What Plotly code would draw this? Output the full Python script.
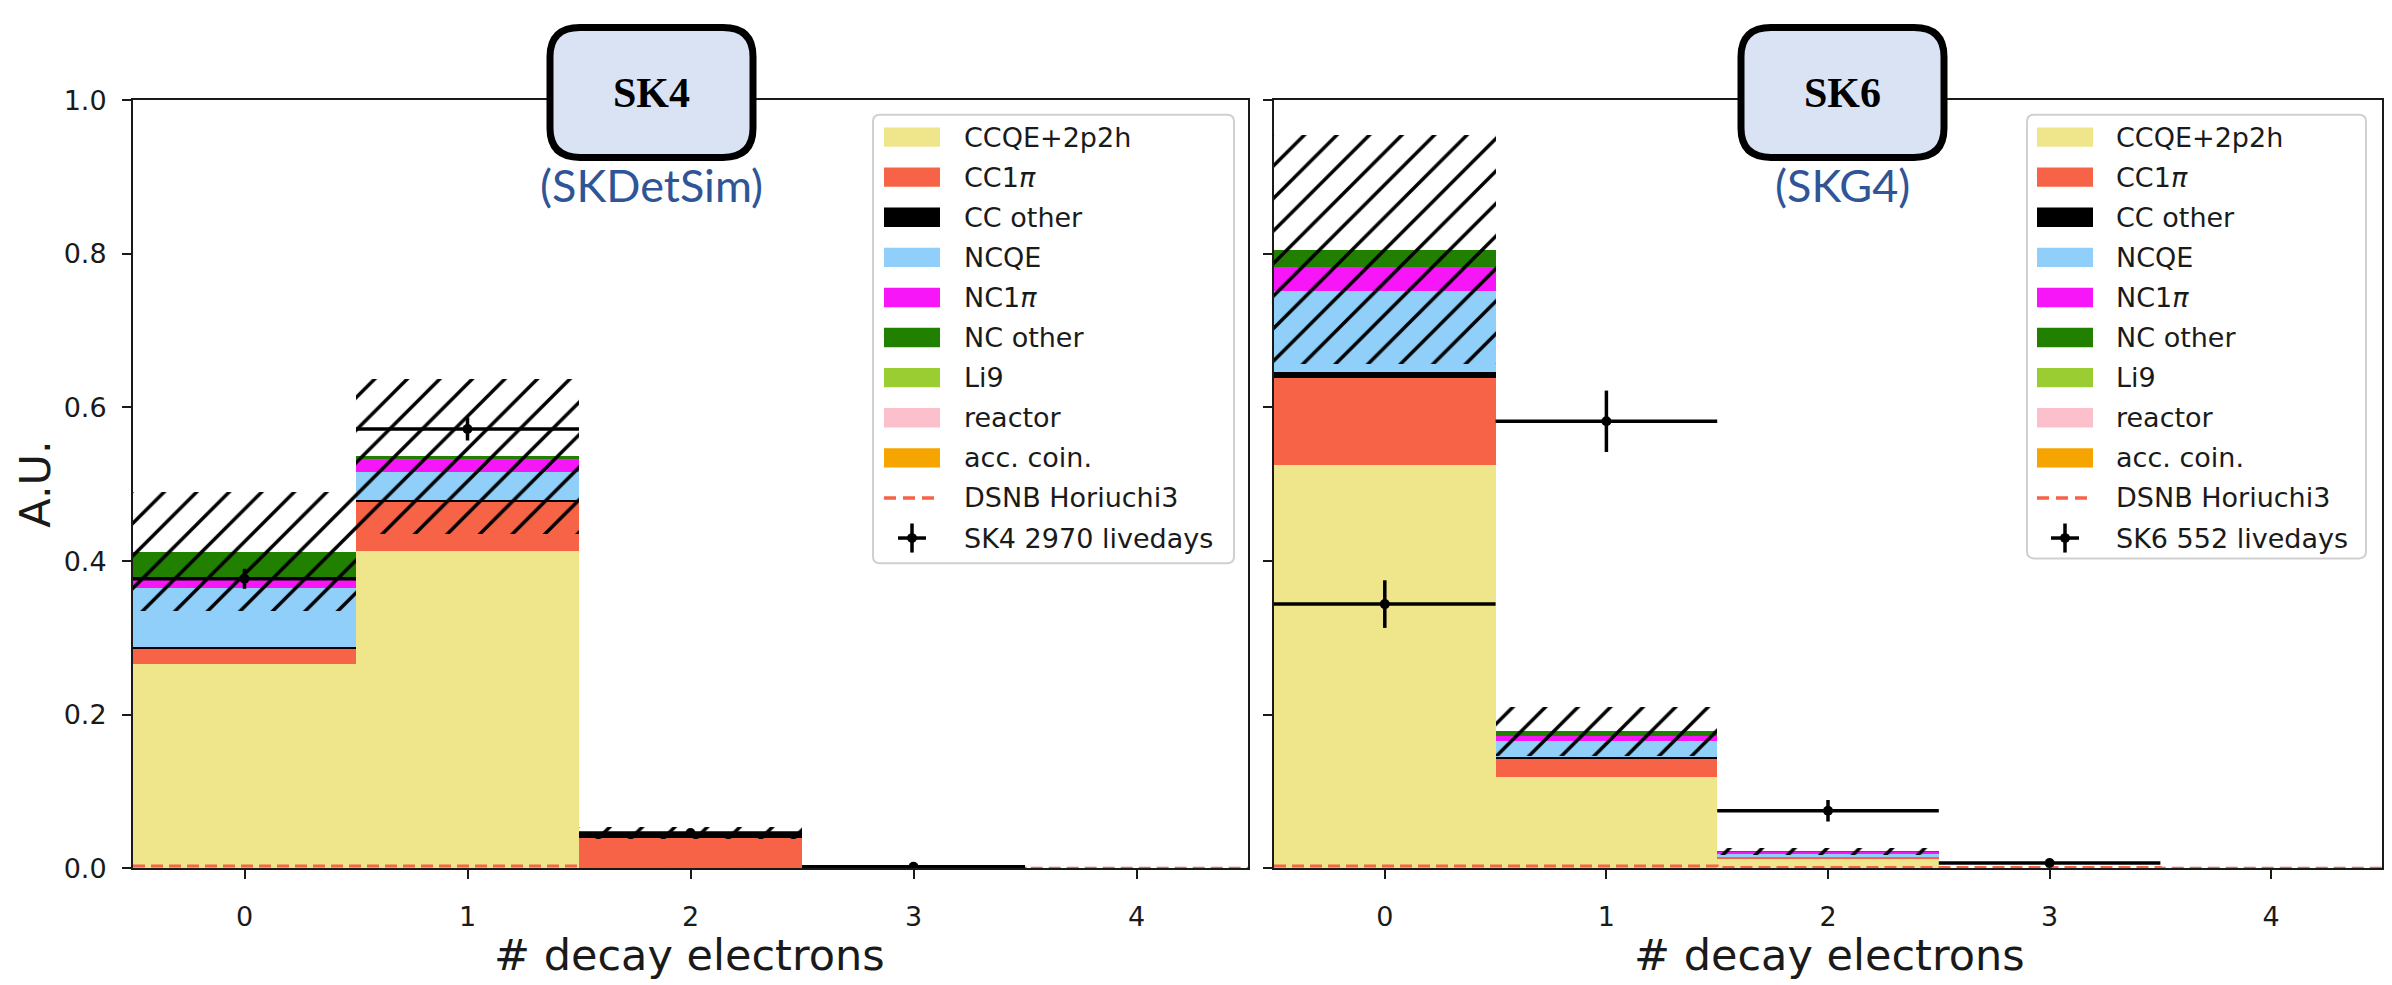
import numpy as np
import plotly.graph_objects as go

W, H = 2392, 985

# ---------------- data ----------------
bins = [0, 1, 2, 3, 4]
xtick_vals = [0, 1, 2, 3, 4]
ytick_vals = [0.0, 0.2, 0.4, 0.6, 0.8, 1.0]
ytick_text = ["0.0", "0.2", "0.4", "0.6", "0.8", "1.0"]

components = ["CCQE+2p2h", "CC1<i>π</i>", "CC other", "NCQE", "NC1<i>π</i>",
              "NC other", "Li9", "reactor", "acc. coin."]
comp_colors = ["#EFE58A", "#F66346", "#000000", "#8FCFF9", "#F716F7",
               "#218000", "#9ACD32", "#FBC0CB", "#F6A500"]

# SK4 (SKDetSim) stacked components per bin
sk4_ccqe = [0.266, 0.413, 0.000, 0.000, 0.0]
sk4_cc1pi = [0.020, 0.063, 0.039, 0.000, 0.0]
sk4_ccother = [0.002, 0.003, 0.007, 0.001, 0.0]
sk4_ncqe = [0.077, 0.037, 0.000, 0.000, 0.0]
sk4_nc1pi = [0.010, 0.016, 0.000, 0.000, 0.0]
sk4_ncother = [0.037, 0.004, 0.000, 0.000, 0.0]
sk4_li9 = [0.0, 0.0, 0.0, 0.0, 0.0]
sk4_reactor = [0.0, 0.0, 0.0, 0.0, 0.0]
sk4_acc = [0.0, 0.0, 0.0, 0.0, 0.0]
sk4_syst = [0.077, 0.101, 0.008, 0.000, 0.0]
sk4_dsnb = [0.003, 0.003, 0.001, 0.0005, 0.0]
sk4_data_x = [0, 1, 2, 3]
sk4_data_y = [0.377, 0.572, 0.046, 0.002]
sk4_data_yerr = [0.013, 0.015, 0.004, 0.001]
sk4_data_xerr = [0.5, 0.5, 0.5, 0.5]

# SK6 (SKG4) stacked components per bin
sk6_ccqe = [0.525, 0.119, 0.013, 0.000, 0.0]
sk6_cc1pi = [0.113, 0.023, 0.002, 0.000, 0.0]
sk6_ccother = [0.008, 0.003, 0.000, 0.000, 0.0]
sk6_ncqe = [0.105, 0.020, 0.004, 0.000, 0.0]
sk6_nc1pi = [0.031, 0.007, 0.002, 0.000, 0.0]
sk6_ncother = [0.023, 0.006, 0.0005, 0.000, 0.0]
sk6_li9 = [0.0, 0.0, 0.0, 0.0, 0.0]
sk6_reactor = [0.0, 0.0, 0.0, 0.0, 0.0]
sk6_acc = [0.0, 0.0, 0.0, 0.0, 0.0]
sk6_syst = [0.149, 0.032, 0.004, 0.000, 0.0]
sk6_dsnb = [0.003, 0.003, 0.001, 0.001, 0.0]
sk6_data_x = [0, 1, 2, 3]
sk6_data_y = [0.344, 0.582, 0.075, 0.007]
sk6_data_yerr = [0.031, 0.040, 0.014, 0.004]
sk6_data_xerr = [0.5, 0.5, 0.5, 0.5]

sk4_stack = [sk4_ccqe, sk4_cc1pi, sk4_ccother, sk4_ncqe, sk4_nc1pi,
             sk4_ncother, sk4_li9, sk4_reactor, sk4_acc]
sk6_stack = [sk6_ccqe, sk6_cc1pi, sk6_ccother, sk6_ncqe, sk6_nc1pi,
             sk6_ncother, sk6_li9, sk6_reactor, sk6_acc]

legend_sk4_data = "SK4 2970 livedays"
legend_sk6_data = "SK6 552 livedays"
dsnb_label = "DSNB Horiuchi3"

# ---------------- helpers ----------------
def X(px):
    return px / W


def Y(py):
    return 1 - py / H


FONT = "DejaVu Sans"
TXT = "#1a1a1a"

fig = go.Figure()


def add_panel(stack, syst, dsnb, dx, dy, dyerr, dxerr, xa, ya):
    base = np.zeros(len(bins))
    for vals, col, name in zip(stack, comp_colors, components):
        v = np.array(vals, dtype=float)
        fig.add_trace(go.Bar(x=bins, y=v, base=base.copy(), width=1.0,
                             marker=dict(color=col, line=dict(width=0)),
                             name=name, showlegend=False, xaxis=xa, yaxis=ya))
        base = base + v
    edges = np.array(bins, dtype=float) - 0.5
    edges = np.append(edges, bins[-1] + 0.5)
    dv = np.append(np.array(dsnb, dtype=float), dsnb[-1])
    fig.add_trace(go.Scatter(x=edges, y=dv, mode="lines", line_shape="hv",
                             line=dict(color="#F66346", width=3, dash="12px,6px"),
                             showlegend=False, xaxis=xa, yaxis=ya))
    fig.add_trace(go.Scatter(x=dx, y=dy, mode="markers",
                             marker=dict(color="black", size=10),
                             error_y=dict(type="data", array=dyerr, color="black",
                                          thickness=3.5, width=0),
                             error_x=dict(type="data", array=dxerr, color="black",
                                          thickness=3.5, width=0),
                             showlegend=False, xaxis=xa, yaxis=ya))
    s = np.array(syst, dtype=float)
    fig.add_trace(go.Bar(x=bins, y=2 * s, base=base - s, width=1.0,
                         marker=dict(color="rgba(0,0,0,0)", line=dict(width=0),
                                     pattern=dict(shape="/", fgcolor="black",
                                                  bgcolor="rgba(0,0,0,0)",
                                                  fgopacity=1,
                                                  size=23, solidity=0.15,
                                                  fillmode="overlay")),
                         showlegend=False, xaxis=xa, yaxis=ya))


add_panel(sk4_stack, sk4_syst, sk4_dsnb, sk4_data_x, sk4_data_y,
          sk4_data_yerr, sk4_data_xerr, "x", "y")
add_panel(sk6_stack, sk6_syst, sk6_dsnb, sk6_data_x, sk6_data_y,
          sk6_data_yerr, sk6_data_xerr, "x2", "y2")

# ---------------- axes ----------------
ydom = [Y(880), Y(87)]
axis_common = dict(showgrid=False, zeroline=False, showline=True, linecolor="#1a1a1a",
                   linewidth=2, mirror=True, ticks="outside", ticklen=9, tickwidth=2,
                   tickcolor="#1a1a1a", tickfont=dict(family=FONT, size=27, color=TXT))

fig.update_layout(
    width=W, height=H,
    margin=dict(l=0, r=0, t=0, b=0),
    paper_bgcolor="white", plot_bgcolor="white",
    barmode="overlay", bargap=0, showlegend=False,
    xaxis=dict(domain=[X(133), X(1248)], range=[-0.5, 4.5], tickvals=xtick_vals,
               ticklabelstandoff=14, anchor="y", **axis_common),
    yaxis=dict(domain=ydom, range=[0, 1.0], tickvals=ytick_vals, ticktext=ytick_text,
               ticklabelstandoff=10, anchor="x", **axis_common),
    xaxis2=dict(domain=[X(1274), X(2382)], range=[-0.5, 4.5], tickvals=xtick_vals,
                ticklabelstandoff=14, anchor="y2", **axis_common),
    yaxis2=dict(domain=ydom, range=[0, 1.0], tickvals=ytick_vals, showticklabels=False,
                anchor="x2", **axis_common),
)

shapes = []
annotations = []

# axis titles
annotations.append(dict(text="# decay electrons", x=X(690), y=Y(969), xref="paper",
                        yref="paper", showarrow=False, xanchor="center", yanchor="middle",
                        font=dict(family=FONT, size=43, color=TXT)))
annotations.append(dict(text="# decay electrons", x=X(1829), y=Y(969), xref="paper",
                        yref="paper", showarrow=False, xanchor="center", yanchor="middle",
                        font=dict(family=FONT, size=43, color=TXT)))
annotations.append(dict(text="A.U.", x=X(35), y=Y(484), xref="paper", yref="paper",
                        showarrow=False, xanchor="center", yanchor="middle", textangle=-90,
                        font=dict(family=FONT, size=43, color=TXT)))


def rbox(x0, y0, x1, y1, r):
    return (f"M {X(x0 + r)},{Y(y0)} L {X(x1 - r)},{Y(y0)} "
            f"Q {X(x1)},{Y(y0)} {X(x1)},{Y(y0 + r)} L {X(x1)},{Y(y1 - r)} "
            f"Q {X(x1)},{Y(y1)} {X(x1 - r)},{Y(y1)} L {X(x0 + r)},{Y(y1)} "
            f"Q {X(x0)},{Y(y1)} {X(x0)},{Y(y1 - r)} L {X(x0)},{Y(y0 + r)} "
            f"Q {X(x0)},{Y(y0)} {X(x0 + r)},{Y(y0)} Z")


# title boxes
for (bx0, bx1, label, sub) in [(550, 753, "SK4", "(SKDetSim)"), (1741, 1944, "SK6", "(SKG4)")]:
    shapes.append(dict(type="path", path=rbox(bx0, 12, bx1, 146, 30), xref="paper",
                       yref="paper", line=dict(color="black", width=7),
                       fillcolor="#DAE3F3", layer="above"))
    cx = (bx0 + bx1) / 2
    annotations.append(dict(text="<b>" + label + "</b>", x=X(cx), y=Y(80), xref="paper",
                            yref="paper", showarrow=False, xanchor="center", yanchor="middle",
                            font=dict(family="Liberation Serif", size=42, color="black")))
    annotations.append(dict(text=sub, x=X(cx), y=Y(174), xref="paper", yref="paper",
                            showarrow=False, xanchor="center", yanchor="middle",
                            font=dict(family="Lato", size=45, color="#2F5597")))


# legends (drawn manually, matplotlib style)
def draw_legend(bx0, bx1, by0, by1, sw0, tx, data_label):
    shapes.append(dict(type="path", path=rbox(bx0, by0, bx1, by1, 7), xref="paper",
                       yref="paper", line=dict(color="#d0d0d0", width=2),
                       fillcolor="rgba(255,255,255,0.85)", layer="above"))
    labels = components + [dsnb_label, data_label]
    for i, lab in enumerate(labels):
        yc = 125 + 41.4 * i
        if i < len(components):
            shapes.append(dict(type="rect", x0=X(sw0), x1=X(sw0 + 56), y0=Y(yc + 10),
                               y1=Y(yc - 10), xref="paper", yref="paper",
                               line=dict(width=0), fillcolor=comp_colors[i], layer="above"))
        elif lab == dsnb_label:
            shapes.append(dict(type="line", x0=X(sw0), x1=X(sw0 + 56), y0=Y(yc), y1=Y(yc),
                               xref="paper", yref="paper",
                               line=dict(color="#F66346", width=3.5, dash="12px,7px"),
                               layer="above"))
        else:
            cxs = sw0 + 28
            shapes.append(dict(type="line", x0=X(cxs), x1=X(cxs), y0=Y(yc - 15), y1=Y(yc + 15),
                               xref="paper", yref="paper",
                               line=dict(color="black", width=3.5), layer="above"))
            shapes.append(dict(type="line", x0=X(cxs - 14), x1=X(cxs + 14), y0=Y(yc), y1=Y(yc),
                               xref="paper", yref="paper",
                               line=dict(color="black", width=3.5), layer="above"))
            shapes.append(dict(type="circle", x0=X(cxs - 5), x1=X(cxs + 5), y0=Y(yc - 5),
                               y1=Y(yc + 5), xref="paper", yref="paper",
                               line=dict(width=0), fillcolor="black", layer="above"))
        annotations.append(dict(text=lab, x=X(tx), y=Y(yc), xref="paper", yref="paper",
                                showarrow=False, xanchor="left", yanchor="middle",
                                font=dict(family=FONT, size=27, color=TXT)))


draw_legend(873, 1234, 102, 565, 884, 962, legend_sk4_data)
draw_legend(2027, 2366, 102, 560, 2037, 2114, legend_sk6_data)

fig.update_layout(shapes=shapes, annotations=annotations)
fig.write_html("out.html")
